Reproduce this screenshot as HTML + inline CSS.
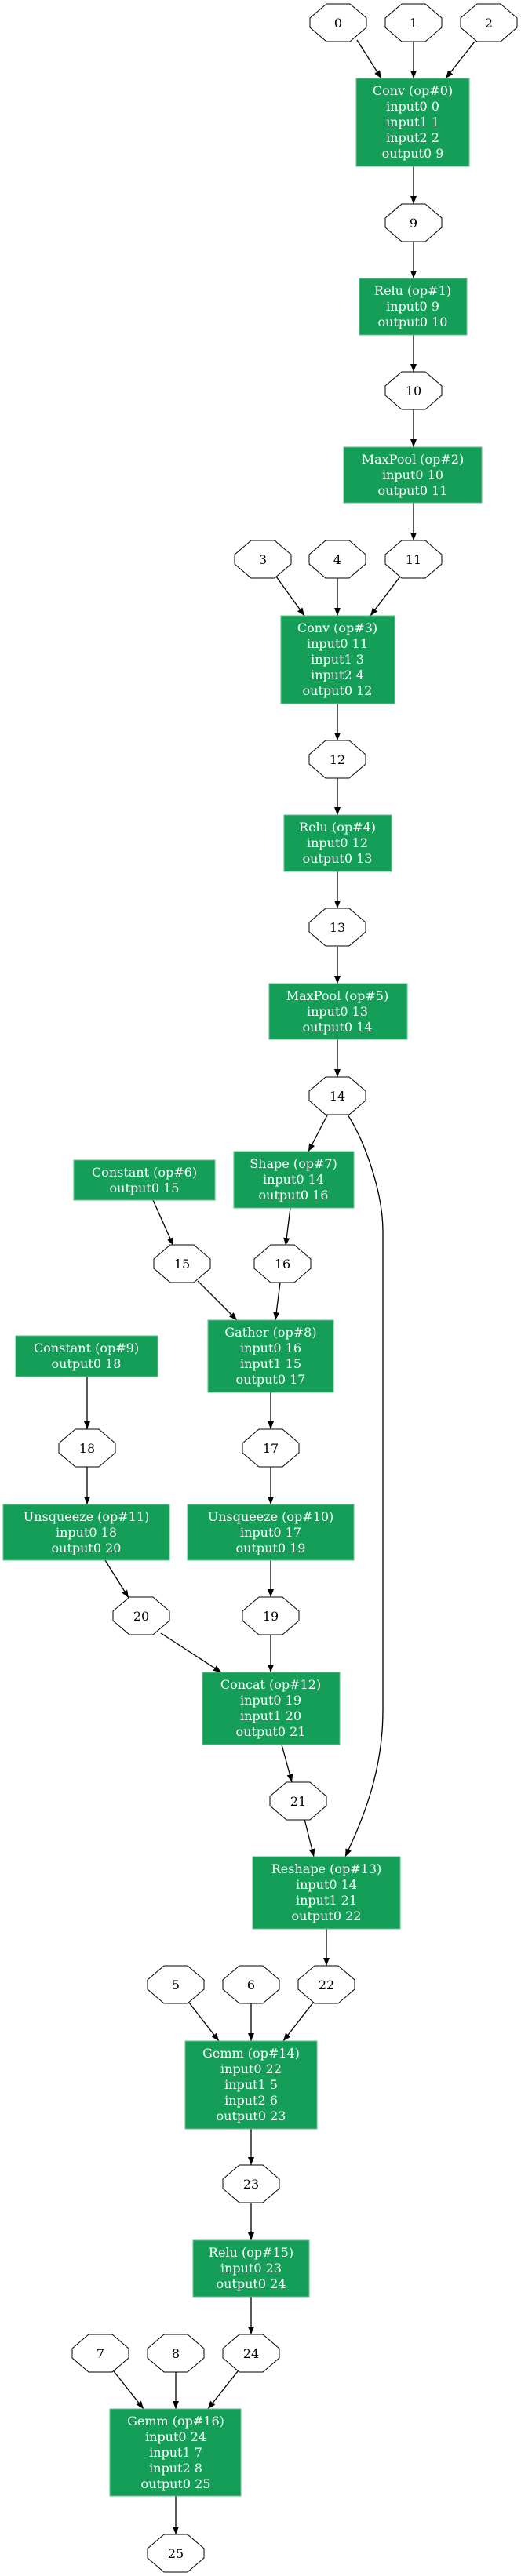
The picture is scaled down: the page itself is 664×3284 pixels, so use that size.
<!DOCTYPE html>
<html><head><meta charset="utf-8"><style>
html,body{margin:0;padding:0;background:#fff}
svg{display:block}
.o{fill:#fff;stroke:#000;stroke-width:1}
.b{fill:#149e57;stroke:#5fc08d;stroke-width:1}
.e{stroke:#000;stroke-width:1.3;fill:none}
text{font-family:"DejaVu Serif","Liberation Serif",serif;font-size:16px;text-anchor:middle}
.w{fill:#fff}
</style></head><body>
<svg width="664" height="3284" viewBox="0 0 664 3284" xmlns="http://www.w3.org/2000/svg">
<defs><marker id="a" viewBox="0 0 10 8" refX="10" refY="4" markerWidth="10" markerHeight="8" markerUnits="userSpaceOnUse" orient="auto"><path d="M0,0 L10,4 L0,8 z" fill="#000"/></marker></defs>

<!-- edges -->
<g class="e" marker-end="url(#a)">
<path d="M455,51 L486,100"/><path d="M527,53 L527,100"/><path d="M605,53 L568,100"/>
<path d="M527,212 L527,260"/><path d="M527,308 L527,355"/><path d="M527,427 L527,474"/>
<path d="M527,522 L527,570"/><path d="M527,641 L527,689"/>
<path d="M352,735 L388,785"/><path d="M430,737 L430,785"/><path d="M510,735 L472,785"/>
<path d="M430,897 L430,944"/><path d="M430,992 L430,1039"/><path d="M430,1111 L430,1158"/>
<path d="M430,1207 L430,1254"/><path d="M430,1325 L430,1373"/>
<path d="M418,1420 L393,1468"/>
<path d="M195,1530 L221,1588"/><path d="M370,1540 L364,1588"/>
<path d="M252,1633 L302,1683"/><path d="M357,1635 L351,1683"/>
<path d="M345,1775 L345,1822"/><path d="M111,1755 L111,1822"/>
<path d="M111,1870 L111,1918"/><path d="M345,1870 L345,1918"/>
<path d="M134,1989 L164,2037"/><path d="M345,1989 L345,2036"/>
<path d="M205,2082 L282,2132"/><path d="M345,2084 L345,2132"/>
<path d="M359,2224 L372,2272"/><path d="M388,2319 L400,2367"/>
<path d="M443,1421 C465,1455 488,1520 488,1570 L488,2180 C488,2260 462,2320 440,2367"/>
<path d="M416,2459 L416,2506"/>
<path d="M241,2553 L279,2602"/><path d="M320,2554 L320,2602"/><path d="M399,2553 L361,2602"/>
<path d="M320,2714 L320,2760"/><path d="M320,2808 L320,2856"/><path d="M320,2928 L320,2976"/>
<path d="M145,3023 L183,3071"/><path d="M224,3024 L224,3071"/><path d="M303,3023 L265,3071"/>
<path d="M224,3182 L224,3231"/>
</g>

<!-- octagon nodes -->
<g id="oct">
<polygon class="o" points="-15,-24 15,-24 36,-6 36,6 15,24 -15,24 -36,6 -36,-6" transform="translate(431,29)"/><text x="431" y="35">0</text>
<polygon class="o" points="-15,-24 15,-24 36,-6 36,6 15,24 -15,24 -36,6 -36,-6" transform="translate(527,29)"/><text x="527" y="35">1</text>
<polygon class="o" points="-15,-24 15,-24 36,-6 36,6 15,24 -15,24 -36,6 -36,-6" transform="translate(623,29)"/><text x="623" y="35">2</text>
<polygon class="o" points="-15,-24 15,-24 36,-6 36,6 15,24 -15,24 -36,6 -36,-6" transform="translate(527,284)"/><text x="527" y="290">9</text>
<polygon class="o" points="-15,-24 15,-24 36,-6 36,6 15,24 -15,24 -36,6 -36,-6" transform="translate(527,498)"/><text x="527" y="504">10</text>
<polygon class="o" points="-15,-24 15,-24 36,-6 36,6 15,24 -15,24 -36,6 -36,-6" transform="translate(335,713)"/><text x="335" y="719">3</text>
<polygon class="o" points="-15,-24 15,-24 36,-6 36,6 15,24 -15,24 -36,6 -36,-6" transform="translate(430,713)"/><text x="430" y="719">4</text>
<polygon class="o" points="-15,-24 15,-24 36,-6 36,6 15,24 -15,24 -36,6 -36,-6" transform="translate(527,713)"/><text x="527" y="719">11</text>
<polygon class="o" points="-15,-24 15,-24 36,-6 36,6 15,24 -15,24 -36,6 -36,-6" transform="translate(430,968)"/><text x="430" y="974">12</text>
<polygon class="o" points="-15,-24 15,-24 36,-6 36,6 15,24 -15,24 -36,6 -36,-6" transform="translate(430,1182)"/><text x="430" y="1188">13</text>
<polygon class="o" points="-15,-24 15,-24 36,-6 36,6 15,24 -15,24 -36,6 -36,-6" transform="translate(430,1397)"/><text x="430" y="1403">14</text>
<polygon class="o" points="-15,-24 15,-24 36,-6 36,6 15,24 -15,24 -36,6 -36,-6" transform="translate(232,1611)"/><text x="232" y="1617">15</text>
<polygon class="o" points="-15,-24 15,-24 36,-6 36,6 15,24 -15,24 -36,6 -36,-6" transform="translate(360,1611)"/><text x="360" y="1617">16</text>
<polygon class="o" points="-15,-24 15,-24 36,-6 36,6 15,24 -15,24 -36,6 -36,-6" transform="translate(111,1846)"/><text x="111" y="1852">18</text>
<polygon class="o" points="-15,-24 15,-24 36,-6 36,6 15,24 -15,24 -36,6 -36,-6" transform="translate(345,1846)"/><text x="345" y="1852">17</text>
<polygon class="o" points="-15,-24 15,-24 36,-6 36,6 15,24 -15,24 -36,6 -36,-6" transform="translate(180,2060)"/><text x="180" y="2066">20</text>
<polygon class="o" points="-15,-24 15,-24 36,-6 36,6 15,24 -15,24 -36,6 -36,-6" transform="translate(345,2060)"/><text x="345" y="2066">19</text>
<polygon class="o" points="-15,-24 15,-24 36,-6 36,6 15,24 -15,24 -36,6 -36,-6" transform="translate(380,2296)"/><text x="380" y="2302">21</text>
<polygon class="o" points="-15,-24 15,-24 36,-6 36,6 15,24 -15,24 -36,6 -36,-6" transform="translate(224,2530)"/><text x="224" y="2536">5</text>
<polygon class="o" points="-15,-24 15,-24 36,-6 36,6 15,24 -15,24 -36,6 -36,-6" transform="translate(320,2530)"/><text x="320" y="2536">6</text>
<polygon class="o" points="-15,-24 15,-24 36,-6 36,6 15,24 -15,24 -36,6 -36,-6" transform="translate(416,2530)"/><text x="416" y="2536">22</text>
<polygon class="o" points="-15,-24 15,-24 36,-6 36,6 15,24 -15,24 -36,6 -36,-6" transform="translate(320,2784)"/><text x="320" y="2790">23</text>
<polygon class="o" points="-15,-24 15,-24 36,-6 36,6 15,24 -15,24 -36,6 -36,-6" transform="translate(128,3000)"/><text x="128" y="3006">7</text>
<polygon class="o" points="-15,-24 15,-24 36,-6 36,6 15,24 -15,24 -36,6 -36,-6" transform="translate(224,3000)"/><text x="224" y="3006">8</text>
<polygon class="o" points="-15,-24 15,-24 36,-6 36,6 15,24 -15,24 -36,6 -36,-6" transform="translate(320,3000)"/><text x="320" y="3006">24</text>
<polygon class="o" points="-15,-24 15,-24 36,-6 36,6 15,24 -15,24 -36,6 -36,-6" transform="translate(224,3255)"/><text x="224" y="3261">25</text>
</g>

<!-- op boxes -->
<rect class="b" x="454" y="100" width="144" height="112"/>
<text class="w" x="526" y="121">Conv (op#0)</text><text class="w" x="526" y="141">input0 0</text><text class="w" x="526" y="161">input1 1</text><text class="w" x="526" y="181">input2 2</text><text class="w" x="526" y="201">output0 9</text>

<rect class="b" x="458" y="355" width="137" height="72"/>
<text class="w" x="526" y="376">Relu (op#1)</text><text class="w" x="526" y="396">input0 9</text><text class="w" x="526" y="416">output0 10</text>

<rect class="b" x="438" y="570" width="176" height="71"/>
<text class="w" x="526" y="591">MaxPool (op#2)</text><text class="w" x="526" y="611">input0 10</text><text class="w" x="526" y="631">output0 11</text>

<rect class="b" x="358" y="785" width="145" height="112"/>
<text class="w" x="430" y="806">Conv (op#3)</text><text class="w" x="430" y="826">input0 11</text><text class="w" x="430" y="846">input1 3</text><text class="w" x="430" y="866">input2 4</text><text class="w" x="430" y="886">output0 12</text>

<rect class="b" x="362" y="1039" width="137" height="72"/>
<text class="w" x="430" y="1060">Relu (op#4)</text><text class="w" x="430" y="1080">input0 12</text><text class="w" x="430" y="1100">output0 13</text>

<rect class="b" x="343" y="1254" width="176" height="71"/>
<text class="w" x="430" y="1275">MaxPool (op#5)</text><text class="w" x="430" y="1295">input0 13</text><text class="w" x="430" y="1315">output0 14</text>

<rect class="b" x="94" y="1479" width="180" height="51"/>
<text class="w" x="184" y="1500">Constant (op#6)</text><text class="w" x="184" y="1520">output0 15</text>

<rect class="b" x="298" y="1468" width="153" height="72"/>
<text class="w" x="374" y="1489">Shape (op#7)</text><text class="w" x="374" y="1509">input0 14</text><text class="w" x="374" y="1529">output0 16</text>

<rect class="b" x="265" y="1683" width="160" height="92"/>
<text class="w" x="345" y="1704">Gather (op#8)</text><text class="w" x="345" y="1724">input0 16</text><text class="w" x="345" y="1744">input1 15</text><text class="w" x="345" y="1764">output0 17</text>

<rect class="b" x="20" y="1703" width="181" height="52"/>
<text class="w" x="110" y="1724">Constant (op#9)</text><text class="w" x="110" y="1744">output0 18</text>

<rect class="b" x="4" y="1918" width="212" height="71"/>
<text class="w" x="110" y="1939">Unsqueeze (op#11)</text><text class="w" x="110" y="1959">input0 18</text><text class="w" x="110" y="1979">output0 20</text>

<rect class="b" x="239" y="1918" width="212" height="71"/>
<text class="w" x="345" y="1939">Unsqueeze (op#10)</text><text class="w" x="345" y="1959">input0 17</text><text class="w" x="345" y="1979">output0 19</text>

<rect class="b" x="258" y="2132" width="175" height="92"/>
<text class="w" x="345" y="2153">Concat (op#12)</text><text class="w" x="345" y="2173">input0 19</text><text class="w" x="345" y="2193">input1 20</text><text class="w" x="345" y="2213">output0 21</text>

<rect class="b" x="322" y="2367" width="188" height="92"/>
<text class="w" x="416" y="2388">Reshape (op#13)</text><text class="w" x="416" y="2408">input0 14</text><text class="w" x="416" y="2428">input1 21</text><text class="w" x="416" y="2448">output0 22</text>

<rect class="b" x="236" y="2602" width="168" height="112"/>
<text class="w" x="320" y="2623">Gemm (op#14)</text><text class="w" x="320" y="2643">input0 22</text><text class="w" x="320" y="2663">input1 5</text><text class="w" x="320" y="2683">input2 6</text><text class="w" x="320" y="2703">output0 23</text>

<rect class="b" x="246" y="2856" width="148" height="72"/>
<text class="w" x="320" y="2877">Relu (op#15)</text><text class="w" x="320" y="2897">input0 23</text><text class="w" x="320" y="2917">output0 24</text>

<rect class="b" x="140" y="3071" width="167" height="111"/>
<text class="w" x="224" y="3092">Gemm (op#16)</text><text class="w" x="224" y="3112">input0 24</text><text class="w" x="224" y="3132">input1 7</text><text class="w" x="224" y="3152">input2 8</text><text class="w" x="224" y="3172">output0 25</text>
</svg>
</body></html>
